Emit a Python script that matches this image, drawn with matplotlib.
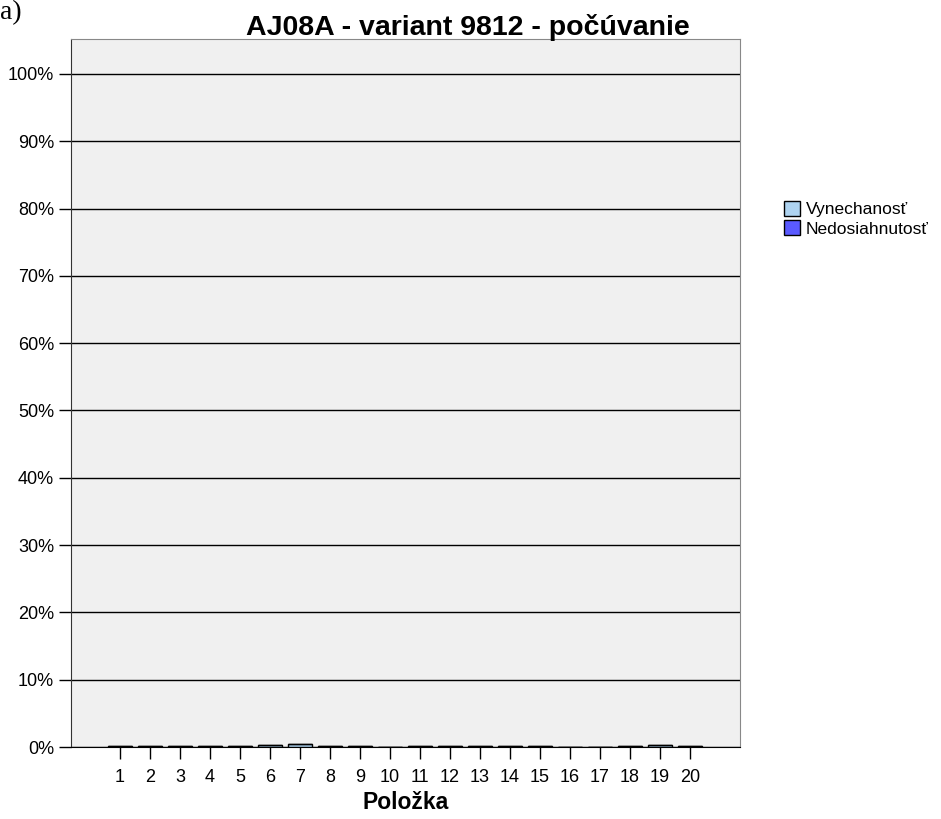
import numpy as np
import matplotlib.pyplot as plt
from matplotlib.patches import Patch

# Data (percent of pupils per item)
items = [str(i) for i in range(1, 21)]
vynechanost = [0.2, 0.15, 0.2, 0.1, 0.15, 0.35, 0.5, 0.2, 0.15, 0.0,
               0.15, 0.2, 0.2, 0.1, 0.2, 0.05, 0.05, 0.1, 0.25, 0.1]
nedosiahnutost = [0.0] * 20
yticks = list(range(0, 101, 10))

plt.rcParams['font.family'] = ['Liberation Sans', 'DejaVu Sans']

fig = plt.figure(figsize=(9.41, 8.19), dpi=100)
ax = fig.add_axes([71/941, 1 - 747/819, (740 - 71)/941, (747 - 39)/819])
ax.set_facecolor('#f0f0f0')

x = np.arange(1, 21)
ax.bar(x, vynechanost, width=0.8, color='#aed3f0', edgecolor='black', linewidth=1, zorder=3)
ax.bar(x, nedosiahnutost, width=0.8, bottom=vynechanost, color='#5a5aff',
       edgecolor='black', linewidth=1, zorder=3)

for t in yticks:
    ax.axhline(t, color='black', linewidth=1, zorder=2)

ax.set_xlim(-0.63, 21.67)
ax.set_ylim(0, 105.2)
ax.set_xticks(x)
ax.set_xticklabels(items)
ax.set_yticks(yticks)
ax.set_yticklabels([f'{t}%' for t in yticks])
ax.tick_params(axis='both', labelsize=13, colors='black', width=1)
ax.tick_params(axis='y', length=8.6, pad=3.6)
ax.tick_params(axis='x', length=8.6, pad=7)

for s in ['top', 'right']:
    ax.spines[s].set_color('#888888')
    ax.spines[s].set_linewidth(0.8)
ax.spines['left'].set_color('#333333')
ax.spines['bottom'].set_color('black')

ax.set_xlabel('Položka', fontsize=16.5, fontweight='bold', labelpad=4)
fig.text(0.497, 0.966, 'AJ08A - variant 9812 - počúvanie', ha='center', va='center',
         fontsize=20.5, fontweight='bold')
fig.text(0.0, 0.985, 'a)', fontsize=20, family='Liberation Serif', va='center', ha='left')

handles = [Patch(facecolor='#aed3f0', edgecolor='black', label='Vynechanosť'),
           Patch(facecolor='#5a5aff', edgecolor='black', label='Nedosiahnutosť')]
fig.legend(handles=handles, loc='upper left', bbox_to_anchor=(784/941, 1 - 201/819),
           frameon=False, fontsize=12.5, handlelength=0.95, handleheight=0.95,
           handletextpad=0.3, labelspacing=0.15, borderaxespad=0, borderpad=0)

fig.savefig('out.png', dpi=100)
